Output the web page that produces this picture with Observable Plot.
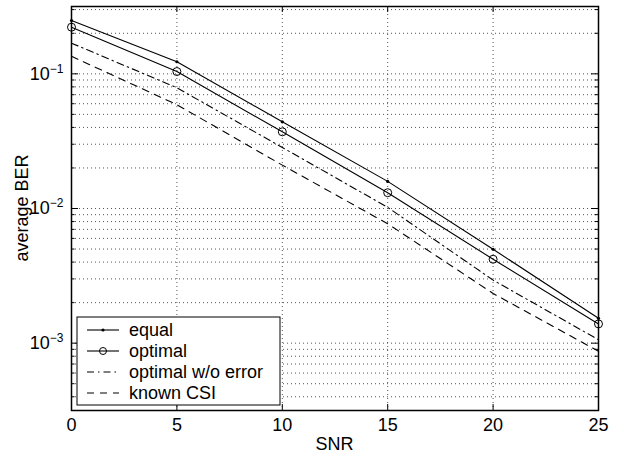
<!DOCTYPE html>
<html><head><meta charset="utf-8">
<script src="https://cdn.jsdelivr.net/npm/d3@7"></script>
<script src="https://cdn.jsdelivr.net/npm/@observablehq/plot@0.6"></script>
<style>
body{margin:0;background:#fff}
#chart{position:relative;width:624px;height:456px}
</style>
</head><body><div id="chart"></div>
<script>
// ---- data ----
const snr = [0, 5, 10, 15, 20, 25];
const berEqual   = [0.249, 0.123, 0.044, 0.0159, 0.00498, 0.00153];
const berOptimal = [0.222, 0.104, 0.0371, 0.0131, 0.0042, 0.00139];
const berOptNoErr = [0.169, 0.0788, 0.0284, 0.0102, 0.00294, 0.00106];
const berKnownCSI = [0.135, 0.059, 0.021, 0.0077, 0.00234, 0.00087];
const seriesNames = ["equal", "optimal", "optimal w/o error", "known CSI"];
const xTicks = [0, 5, 10, 15, 20, 25];
const xGrid = [5, 10, 15, 20];
const yMajor = [1e-3, 1e-2, 1e-1];
const yDomain = [Math.pow(10, -3.5), Math.pow(10, -0.5)];
const xLabel = "SNR";
const yLabel = "average BER";

// minor log grid values
const yMinor = [];
for (let e = -4; e <= -1; e++) for (let k = 1; k <= 9; k++) {
  const v = k * Math.pow(10, e);
  if (v > yDomain[0] && v < yDomain[1]) yMinor.push(+v.toPrecision(3));
}
const yMinorOnly = yMinor.filter(v => !yMajor.some(m => Math.abs(m - v) / m < 1e-6));

const mk = (vals, name) => snr.map((x, i) => ({snr: x, ber: vals[i], series: name}));
const dEqual = mk(berEqual, seriesNames[0]);
const dOpt = mk(berOptimal, seriesNames[1]);
const dNoErr = mk(berOptNoErr, seriesNames[2]);
const dCSI = mk(berKnownCSI, seriesNames[3]);

const W = 624, H = 456, mL = 71, mR = 26, mT = 6, mB = 46;
const iw = W - mL - mR, ih = H - mT - mB;
const gridStyle = {stroke: "#555", strokeWidth: 1, strokeDasharray: "1,3"};
const dashDot = "7,4,1.5,4";
const dashed = "7,6";

const plot = Plot.plot({
  width: W, height: H,
  marginLeft: mL, marginRight: mR, marginTop: mT, marginBottom: mB,
  style: {fontFamily: "'Liberation Sans', Arial, sans-serif", fontSize: "18px", background: "white", color: "black"},
  x: {domain: [0, 25]},
  y: {type: "log", domain: yDomain},
  marks: [
    Plot.ruleX(xGrid, gridStyle),
    Plot.ruleY(yMinor, gridStyle),
    // inward ticks (MATLAB style)
    Plot.tickX(xTicks, {x: d => d, insetTop: ih - 6, stroke: "black"}),
    Plot.tickX(xTicks, {x: d => d, insetBottom: ih - 6, stroke: "black"}),
    Plot.tickY(yMajor, {y: d => d, insetRight: iw - 7, stroke: "black"}),
    Plot.tickY(yMajor, {y: d => d, insetLeft: iw - 7, stroke: "black"}),
    Plot.tickY(yMinorOnly, {y: d => d, insetRight: iw - 3.5, stroke: "black"}),
    Plot.tickY(yMinorOnly, {y: d => d, insetLeft: iw - 3.5, stroke: "black"}),
    Plot.line(dEqual, {x: "snr", y: "ber", stroke: "black", strokeWidth: 1.1}),
    Plot.line(dOpt, {x: "snr", y: "ber", stroke: "black", strokeWidth: 1.1}),
    Plot.line(dNoErr, {x: "snr", y: "ber", stroke: "black", strokeWidth: 1.1, strokeDasharray: dashDot}),
    Plot.line(dCSI, {x: "snr", y: "ber", stroke: "black", strokeWidth: 1.1, strokeDasharray: dashed}),
    Plot.dot(dOpt, {x: "snr", y: "ber", r: 4, stroke: "black", fill: "none", strokeWidth: 1}),
    Plot.dot(dEqual, {x: "snr", y: "ber", r: 1.6, fill: "black", stroke: "none"}),
    Plot.frame({stroke: "black", strokeWidth: 1.5}),
    Plot.axisX({ticks: xTicks, tickSize: 0, tickPadding: 8, label: null}),
    Plot.axisY({ticks: yMajor, tickSize: 0, tickPadding: 8, label: null,
      tickFormat: d => "10^" + Math.round(Math.log10(d))})
  ]
});
document.getElementById("chart").appendChild(plot);

const svg = d3.select(plot);
// superscript exponents on y tick labels
svg.selectAll("text").each(function() {
  const t = this.textContent;
  const m = /^10\^(-?\d+)$/.exec(t);
  if (!m) return;
  const sel = d3.select(this);
  sel.text("10");
  sel.append("tspan").attr("dy", "-7").attr("font-size", "12px")
    .text(m[1].replace("-", "\u2212"));
});

// axis titles
svg.append("text").attr("x", mL + iw / 2).attr("y", 450)
  .attr("text-anchor", "middle").attr("fill", "black").text(xLabel);
svg.append("text").attr("transform", `translate(28,${mT + ih / 2}) rotate(-90)`)
  .attr("text-anchor", "middle").attr("fill", "black").text(yLabel);

// legend
const lg = svg.append("g").attr("font-size", "18px");
lg.append("rect").attr("x", 77).attr("y", 317).attr("width", 203).attr("height", 88)
  .attr("fill", "white").attr("stroke", "black").attr("stroke-width", 1);
const styles = [
  {dash: null, marker: "dot"},
  {dash: null, marker: "circle"},
  {dash: dashDot, marker: null},
  {dash: dashed, marker: null}
];
seriesNames.forEach((name, i) => {
  const y = 330 + i * 21;
  lg.append("line").attr("x1", 87).attr("x2", 119).attr("y1", y).attr("y2", y)
    .attr("stroke", "black").attr("stroke-width", 1.1)
    .attr("stroke-dasharray", styles[i].dash);
  if (styles[i].marker === "dot")
    lg.append("circle").attr("cx", 103).attr("cy", y).attr("r", 1.6).attr("fill", "black");
  if (styles[i].marker === "circle")
    lg.append("circle").attr("cx", 103).attr("cy", y).attr("r", 3.5).attr("fill", "none").attr("stroke", "black");
  lg.append("text").attr("x", 129).attr("y", y).attr("dy", "0.35em")
    .attr("text-anchor", "start").attr("fill", "black").text(name);
});
</script>
</body></html>
